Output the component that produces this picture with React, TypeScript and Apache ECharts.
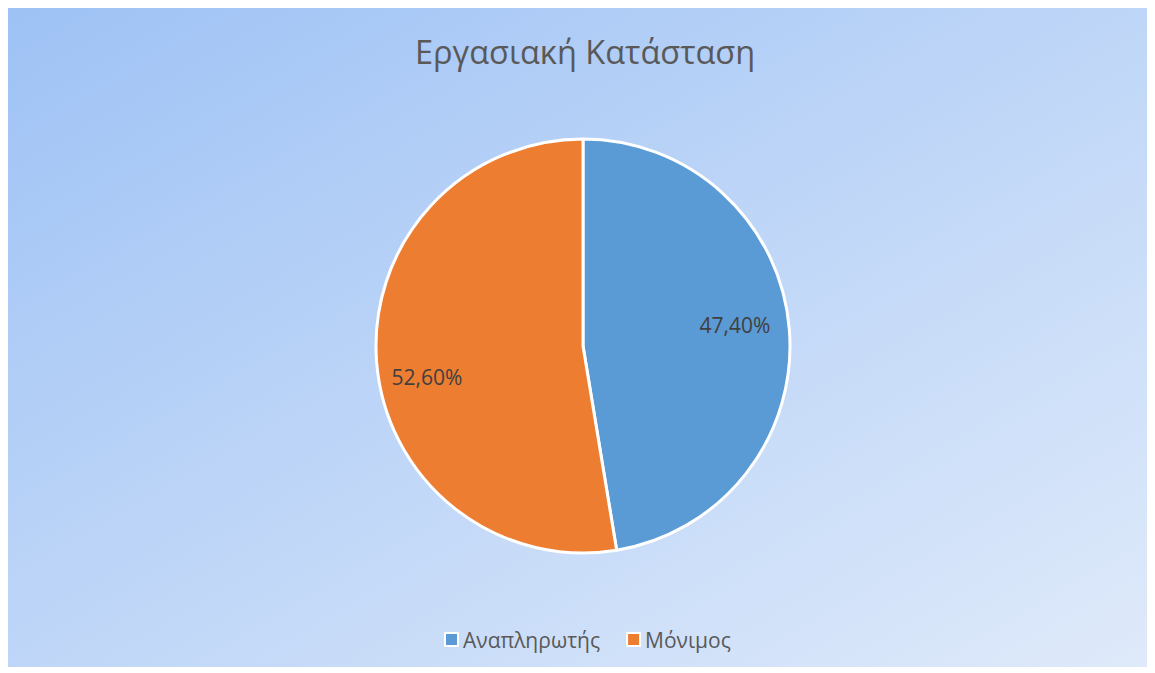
import React, { useEffect, useRef } from "react";
import * as echarts from "echarts";

const TITLE = "Εργασιακή Κατάσταση";
const CATEGORIES = ["Αναπληρωτής", "Μόνιμος"];
const VALUES = [47.4, 52.6];
const LABELS = ["47,40%", "52,60%"];
const COLORS = ["#5B9BD5", "#ED7D31"];

const W = 1141;
const H = 659;
const CX = 575;
const CY = 338;
const R = 207;
// label placement offsets relative to pie center (pixels)
const LABEL_OFFSETS = [
  [152, -21],
  [-156, 31],
];

export default function App() {
  const ref = useRef<HTMLDivElement>(null);
  useEffect(() => {
    if (!ref.current) return;
    const chart = echarts.init(ref.current, null, { renderer: "svg" });
    chart.setOption({
      animation: false,
      backgroundColor: new echarts.graphic.LinearGradient(0, 0, 1, 1, [
        { offset: 0, color: "#9EC2F5" },
        { offset: 1, color: "#DFEAFA" },
      ]),
      title: {
        text: TITLE,
        left: 402,
        top: 22,
        textStyle: {
          fontFamily: "Open Sans",
          fontSize: 32.5,
          fontWeight: "normal",
          color: "#595959",
        },
      },
      legend: {
        bottom: 12,
        left: 431,
        icon: "rect",
        itemWidth: 13,
        itemHeight: 13,
        itemGap: 26,
        itemStyle: { borderColor: "#ffffff", borderWidth: 2 },
        textStyle: {
          fontFamily: "Open Sans",
          fontSize: 21,
          color: "#595959",
        },
        data: CATEGORIES,
      },
      series: [
        {
          type: "pie",
          center: [CX, CY],
          radius: [0, R],
          startAngle: 90,
          clockwise: true,
          itemStyle: { borderColor: "#ffffff", borderWidth: 3 },
          label: {
            show: true,
            position: "inside",
            fontFamily: "Open Sans",
            fontSize: 21,
            color: "#404040",
            formatter: (p: any) => LABELS[p.dataIndex],
          },
          labelLayout: (p: any) => {
            const o = LABEL_OFFSETS[p.dataIndex];
            return { x: CX + o[0], y: CY + o[1], align: "center", verticalAlign: "middle" };
          },
          labelLine: { show: false },
          emphasis: { disabled: true },
          data: CATEGORIES.map((c, i) => ({
            name: c,
            value: VALUES[i],
            itemStyle: { color: COLORS[i] },
          })),
        },
      ],
    });
    return () => chart.dispose();
  }, []);
  return <div ref={ref} style={{ width: W, height: H }} />;
}
